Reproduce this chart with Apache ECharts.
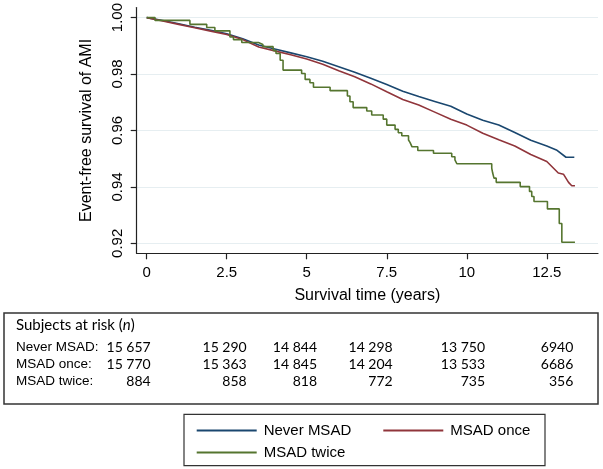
<!DOCTYPE html>
<html>
<head>
<meta charset="utf-8">
<script src="https://cdn.jsdelivr.net/npm/echarts@6/dist/echarts.min.js"></script>
<style>
html,body{margin:0;padding:0;background:#fff;}
#chart{width:603px;height:469px;}
</style>
</head>
<body>
<div id="chart"></div>
<script>
// ---------- data ----------
const xTicks = [0, 2.5, 5, 7.5, 10, 12.5];
const yTicks = [0.92, 0.94, 0.96, 0.98, 1.00];

const seriesNames = ['Never MSAD', 'MSAD once', 'MSAD twice'];

const neverMSAD = [
  [0,1],[0.5,0.9990],[1,0.9978],[1.5,0.9966],[2,0.9955],[2.5,0.9943],[3,0.9925],[3.5,0.9903],
  [4,0.9889],[4.5,0.9875],[5,0.9861],[5.5,0.9845],[6,0.9826],[6.5,0.9806],[7,0.9785],[7.5,0.9763],
  [8,0.9739],[8.5,0.9720],[9,0.9703],[9.5,0.9686],[10,0.9658],[10.5,0.9636],[11,0.9619],[11.5,0.9593],
  [12,0.9565],[12.5,0.9545],[12.8,0.9531],[13.1,0.9505],[13.36,0.9505]
];
const msadOnce = [
  [0,1],[0.5,0.9988],[1,0.9976],[1.5,0.9964],[2,0.9952],[2.5,0.9940],[3,0.9922],[3.5,0.9896],
  [4,0.9882],[4.5,0.9868],[5,0.9853],[5.5,0.9835],[6,0.9812],[6.5,0.9790],[7,0.9765],[7.5,0.9737],
  [8,0.9710],[8.5,0.9690],[9,0.9665],[9.5,0.9640],[10,0.9619],[10.5,0.9590],[11,0.9567],[11.5,0.9545],
  [12,0.9515],[12.5,0.9490],[12.86,0.9449],[13.02,0.9445],[13.18,0.9416],[13.28,0.9404],[13.38,0.9404]
];
const msadTwice = [
  [0,1],[0.26,0.9990],[1.35,0.9976],[1.875,0.9965],[2.13,0.9953],[2.60,0.9931],[2.71,0.9922],[2.97,0.9912],
  [3.49,0.9905],[3.63,0.9897],[3.95,0.9884],[4.04,0.9873],[4.17,0.9849],[4.26,0.9814],[4.84,0.9802],[4.95,0.9781],
  [5.10,0.9769],[5.21,0.9753],[5.73,0.9741],[6.27,0.9722],[6.35,0.9702],[6.45,0.9681],[6.875,0.9669],[7.03,0.9655],
  [7.39,0.9640],[7.50,0.9619],[7.76,0.9604],[7.86,0.9592],[7.97,0.9581],[8.18,0.9566],[8.23,0.9557],[8.29,0.9542],
  [8.47,0.9529],[8.96,0.9519],[9.53,0.9507],[9.63,0.9496],[9.69,0.9482],[10.78,0.9466],[10.81,0.9449],[10.85,0.9431],
  [10.92,0.9416],[11.67,0.9401],[11.96,0.9384],[12.03,0.9366],[12.10,0.9348],[12.52,0.9322],[12.89,0.9270],[12.97,0.9204],
  [13.38,0.9204]
];

const riskTitle = 'Subjects at risk';
const riskLabels = ['Never MSAD:', 'MSAD once:', 'MSAD twice:'];
const riskNever = [15657, 15290, 14844, 14298, 13750, 6940];
const riskOnce  = [15770, 15363, 14845, 14204, 13533, 6686];
const riskTwice = [884, 858, 818, 772, 735, 356];

// ---------- chart ----------
const colors = ['#1a476f', '#90353b', '#55752f'];
const fmt = n => n >= 10000 ? String(n).replace(/\B(?=(\d{3})+(?!\d))/g, ' ') : String(n);

const chart = echarts.init(document.getElementById('chart'), null, {renderer: 'canvas'});

const FONT = 'Liberation Sans, Arial, sans-serif';
const TFONT = 'Lato, Liberation Sans, sans-serif';

const colRight = [150.7, 246.7, 317, 392.7, 485, 573.3];
const rowY = [347, 364, 381];
const tableRows = [riskNever, riskOnce, riskTwice];

const graphics = [
  {type: 'rect', shape: {x: 4, y: 313, width: 594, height: 91},
   style: {fill: 'none', stroke: '#333', lineWidth: 1.5}, silent: true},
  {type: 'text', x: 16, y: 325,
   style: {text: '{a|' + riskTitle + ' (}{i|n}{a|)}', verticalAlign: 'middle',
     rich: {a: {fontFamily: TFONT, fontSize: 15, fill: '#000'},
            i: {fontFamily: TFONT, fontSize: 15, fontStyle: 'italic', fill: '#000'}}}},
  {type: 'rect', shape: {x: 184, y: 414.3, width: 361, height: 51.4},
   style: {fill: 'none', stroke: '#333', lineWidth: 1.2}, silent: true}
];
riskLabels.forEach((lab, r) => {
  graphics.push({type: 'text', x: 16, y: rowY[r],
    style: {text: lab, fontFamily: FONT, fontSize: 13.5, fill: '#000', verticalAlign: 'middle'}});
  tableRows[r].forEach((v, c) => {
    graphics.push({type: 'text', x: colRight[c], y: rowY[r],
      style: {text: fmt(v), fontFamily: TFONT, fontSize: 14, fill: '#000', align: 'right', verticalAlign: 'middle'}});
  });
});

const mkSeries = (name, data, color, step) => ({
  name, type: 'line', data, step: step ? 'end' : false,
  showSymbol: false, symbol: 'none', smooth: false,
  lineStyle: {color, width: 1.6}, itemStyle: {color},
  z: 3, animation: false
});

const legendBase = {
  orient: 'horizontal', icon: 'rect', itemWidth: 60, itemHeight: 2, itemGap: 10,
  textStyle: {fontFamily: FONT, fontSize: 15, color: '#000', padding: [0, 0, 0, 2]}
};

chart.setOption({
  animation: false,
  backgroundColor: '#fff',
  grid: {left: 136.7, top: 7.3, width: 461.3, height: 246, containLabel: false},
  xAxis: {
    type: 'value', min: -0.3125, max: 14.1,
    name: 'Survival time (years)', nameLocation: 'middle', nameGap: 34,
    nameTextStyle: {fontFamily: FONT, fontSize: 16, color: '#000'},
    axisLine: {show: true, onZero: false, lineStyle: {color: '#222', width: 1.2}},
    axisTick: {show: true, customValues: xTicks, length: 6, lineStyle: {color: '#222', width: 1.2}},
    axisLabel: {show: true, customValues: xTicks, margin: 12, fontFamily: FONT, fontSize: 15, color: '#000',
      formatter: v => String(v)},
    splitLine: {show: false}
  },
  yAxis: {
    type: 'value', min: 0.91646, max: 1.00354,
    name: 'Event-free survival of AMI', nameLocation: 'middle', nameGap: 42, nameRotate: 90,
    nameTextStyle: {fontFamily: FONT, fontSize: 16, color: '#000'},
    axisLine: {show: true, onZero: false, lineStyle: {color: '#222', width: 1.2}},
    axisTick: {show: true, customValues: yTicks, length: 6, lineStyle: {color: '#222', width: 1.2}},
    axisLabel: {show: true, customValues: yTicks, rotate: 90, margin: 11, fontFamily: FONT, fontSize: 15, color: '#000',
      formatter: v => v.toFixed(2)},
    splitLine: {show: true, lineStyle: {color: '#e6eef1', width: 1.2}}
  },
  legend: [
    Object.assign({}, legendBase, {data: [seriesNames[0]], left: 191.7, top: 418}),
    Object.assign({}, legendBase, {data: [seriesNames[1]], left: 378.3, top: 418}),
    Object.assign({}, legendBase, {data: [seriesNames[2]], left: 191.7, top: 440})
  ],
  series: [
    mkSeries(seriesNames[0], neverMSAD, colors[0], false),
    mkSeries(seriesNames[1], msadOnce, colors[1], false),
    mkSeries(seriesNames[2], msadTwice, colors[2], true)
  ],
  graphic: graphics
});
</script>
</body>
</html>
